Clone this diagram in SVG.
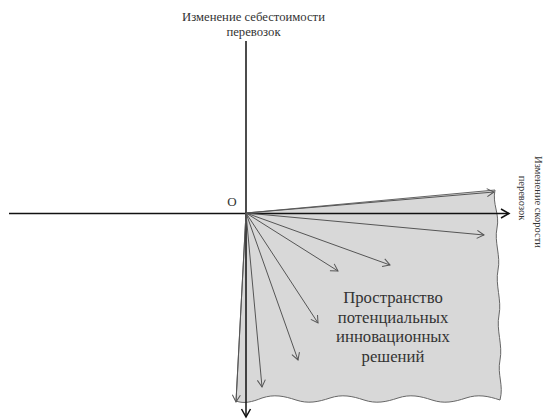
<svg xmlns="http://www.w3.org/2000/svg" width="547" height="420" viewBox="0 0 547 420">
<style>
.ax{stroke:#111;stroke-width:1.5;fill:none}
.ar{stroke:#555;stroke-width:1;fill:none}
</style>
<defs>
<marker id="ah" markerWidth="10" markerHeight="10" refX="8" refY="5" orient="auto" markerUnits="userSpaceOnUse">
<path d="M1,1 L8,5 L1,9" fill="none" stroke="#555" stroke-width="1"/>
</marker>
<marker id="axh" markerWidth="12" markerHeight="12" refX="9" refY="6" orient="auto" markerUnits="userSpaceOnUse">
<path d="M1,1.5 L9,6 L1,10.5" fill="none" stroke="#111" stroke-width="1.5"/>
</marker>
</defs>
<g id="region">
<path d="M246,213 L495,190 C492,204 500,214 497,228 C494,242 501,256 498,270 C495,285 502,300 499,315 C496,330 503,345 500,360 C497,375 504,385 500,400 C488,396 478,394 466,398 C454,402 444,404 432,400 C420,396 410,394 398,398 C386,402 376,404 364,400 C352,396 342,394 330,398 C318,402 308,404 296,400 C284,396 274,394 262,398 C252,402 244,404 236,401 Z" fill="#d8d8d8" stroke="#666" stroke-width="1"/>
</g>
<g id="connectors">
<line class="ax" x1="9" y1="213.5" x2="509" y2="213.5" marker-end="url(#axh)"/>
<line class="ax" x1="246" y1="41" x2="246" y2="417" marker-end="url(#axh)"/>
<line class="ar" x1="246" y1="213" x2="494" y2="192" marker-end="url(#ah)"/>
<line class="ar" x1="246" y1="213" x2="484" y2="235" marker-end="url(#ah)"/>
<line class="ar" x1="246" y1="213" x2="390" y2="265" marker-end="url(#ah)"/>
<line class="ar" x1="246" y1="213" x2="338" y2="271" marker-end="url(#ah)"/>
<line class="ar" x1="246" y1="213" x2="318" y2="323" marker-end="url(#ah)"/>
<line class="ar" x1="246" y1="213" x2="298" y2="360" marker-end="url(#ah)"/>
<line class="ar" x1="246" y1="213" x2="262" y2="387" marker-end="url(#ah)"/>
<line class="ar" x1="246" y1="213" x2="236" y2="402" marker-end="url(#ah)"/>
</g>
<g id="labels" font-family="Liberation Serif, Times New Roman, serif" fill="#333">
<text x="253.5" y="21" font-size="12.7" text-anchor="middle">Изменение себестоимости</text>
<text x="253.5" y="36" font-size="12.7" text-anchor="middle">перевозок</text>
<text x="232" y="206" font-size="13" text-anchor="middle">O</text>
<text transform="translate(535,202) rotate(90)" font-size="10.5" text-anchor="middle">Изменение скорости</text>
<text transform="translate(519,198) rotate(90)" font-size="10.5" text-anchor="middle">перевозок</text>
<text x="393" y="303" font-size="16.7" text-anchor="middle">Пространство</text>
<text x="393" y="322.5" font-size="16.7" text-anchor="middle">потенциальных</text>
<text x="393" y="342" font-size="16.7" text-anchor="middle">инновационных</text>
<text x="393" y="361.5" font-size="16.7" text-anchor="middle">решений</text>
</g>
</svg>
